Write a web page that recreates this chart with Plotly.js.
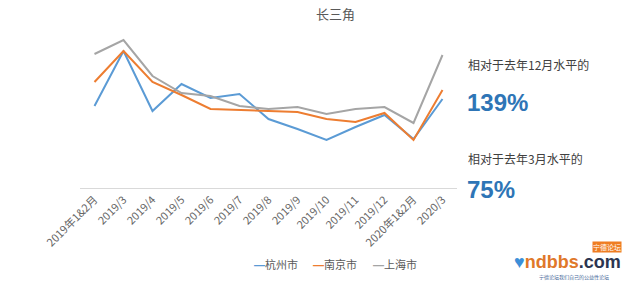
<!DOCTYPE html>
<html>
<head>
<meta charset="utf-8">
<script src="https://cdn.plot.ly/plotly-3.0.1.min.js"></script>
<style>
html,body{margin:0;padding:0;background:#fff;}
#chart{width:640px;height:286px;}
</style>
</head>
<body>
<div id="chart"></div>
<script>
var categories = ['2019年1&2月','2019/3','2019/4','2019/5','2019/6','2019/7','2019/8','2019/9','2019/10','2019/11','2019/12','2020年1&2月','2020/3'];
var hangzhou = [82,137,77,104,90,94,69,59,48,61,73,49,89];
var nanjing  = [106,137,106,93,79,78,77,76,69,66,75,48,98];
var shanghai = [134,148,112,95,92,82,79,81,74,79,81,65,133];
var seriesNames = ['杭州市','南京市','上海市'];
var seriesColors = ['#5b9bd5','#ed7d31','#a5a5a5'];
var noteLabels = ['相对于去年12月水平的','139%','相对于去年3月水平的','75%'];

var FONT = 'Liberation Sans, Arial, Noto Sans CJK SC, sans-serif';
var CJK = 'Noto Sans CJK SC, Liberation Sans, sans-serif';

var data = [hangzhou, nanjing, shanghai].map(function(v,i){
  return {x: categories, y: v, type:'scatter', mode:'lines', name: seriesNames[i],
          line:{color: seriesColors[i], width:2}, hoverinfo:'none'};
});

function px(x){ return (x-80)/377; }
function py(y){ return (188-y)/158; }

var annotations = [
  {text:'长三角', xref:'paper', yref:'paper', x:px(335), y:py(14), showarrow:false,
   xanchor:'center', yanchor:'middle', font:{family:CJK, size:13, color:'#595959'}},
  {text:noteLabels[0], xref:'paper', yref:'paper', x:px(466), xanchor:'left', y:py(64), yanchor:'middle',
   showarrow:false, font:{family:CJK, size:12, color:'#404040'}},
  {text:'<b>'+noteLabels[1]+'</b>', xref:'paper', yref:'paper', x:px(465), xanchor:'left', y:py(102), yanchor:'middle',
   showarrow:false, font:{family:FONT, size:24, color:'#2e75b6'}},
  {text:noteLabels[2], xref:'paper', yref:'paper', x:px(466), xanchor:'left', y:py(158), yanchor:'middle',
   showarrow:false, font:{family:CJK, size:12, color:'#404040'}},
  {text:'<b>'+noteLabels[3]+'</b>', xref:'paper', yref:'paper', x:px(465), xanchor:'left', y:py(189), yanchor:'middle',
   showarrow:false, font:{family:FONT, size:24, color:'#2e75b6'}},
  {text:'<b><span style="color:#3c8fd8">♥</span>ndbbs<span style="color:#2b3550">.com</span></b>', xref:'paper', yref:'paper',
   x:px(512), xanchor:'left', y:py(262), yanchor:'middle', showarrow:false,
   font:{family:FONT, size:18, color:'#e0782a'}},
  {text:'宁德论坛', xref:'paper', yref:'paper', x:px(607), xanchor:'center', y:py(247), yanchor:'middle', showarrow:false,
   bgcolor:'#ef7d22', font:{family:CJK, size:7, color:'#fff'}, borderpad:0},
  {text:'宁德论坛我们自己的公益性论坛', xref:'paper', yref:'paper', x:px(574), xanchor:'center', y:py(277), yanchor:'middle', showarrow:false,
   font:{family:CJK, size:5, color:'#4a6a9a'}}
];
var legendX = [252, 311, 371];
seriesNames.forEach(function(n,i){
  annotations.push({text:'<span style="color:'+seriesColors[i]+';font-family:Liberation Sans"><b>—</b></span>'+n, xref:'paper', yref:'paper',
    x:px(legendX[i]), xanchor:'left', y:py(264), yanchor:'middle', showarrow:false,
    font:{family:CJK, size:11, color:'#595959'}});
});

var layout = {
  width:640, height:286,
  margin:{l:80, r:183, t:30, b:98},
  paper_bgcolor:'#fff', plot_bgcolor:'#fff',
  showlegend:false,
  xaxis:{type:'category', range:[-0.5,12.5], showline:true, linecolor:'#d9d9d9', linewidth:1,
         showgrid:false, zeroline:false, ticks:'', tickangle:-45,
         tickfont:{family:CJK, size:11, color:'#666666'}, fixedrange:true},
  yaxis:{range:[0,158], visible:false, showgrid:false, zeroline:false, fixedrange:true},
  annotations: annotations
};

Plotly.newPlot('chart', data, layout, {staticPlot:true, displayModeBar:false});
</script>
</body>
</html>
